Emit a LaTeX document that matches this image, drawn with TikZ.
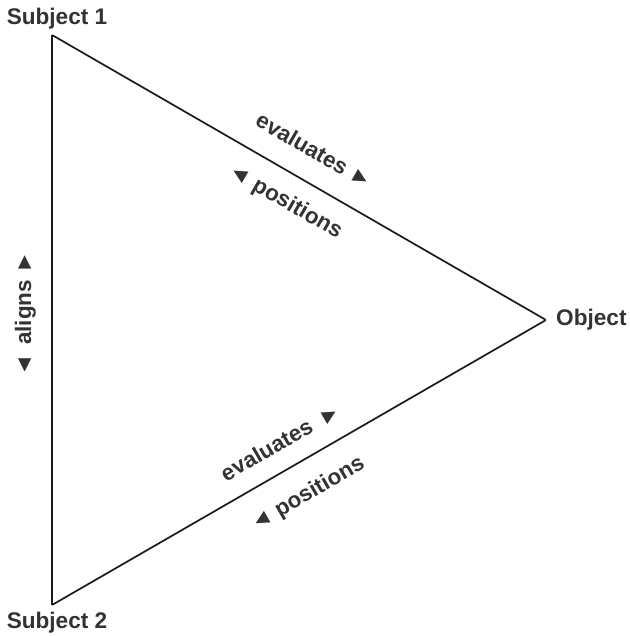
\documentclass[tikz,border=0pt]{standalone}
\usepackage{fontspec}
\setmainfont{Liberation Sans}
\usepackage{xcolor}
\definecolor{textgray}{HTML}{333333}
\definecolor{linegray}{HTML}{1A1A1A}

\begin{document}
\begin{tikzpicture}[x=1pt,y=1pt,
    corner/.style={inner sep=0pt,minimum size=0pt},
    vlabel/.style={font=\fontsize{22.6}{26}\selectfont\bfseries,text=textgray},
    elabel/.style={font=\fontsize{22.4}{26}\selectfont\bfseries,text=textgray,sloped},
    edge/.style={line width=1.7pt,draw=linegray}]

    \useasboundingbox (0,0) rectangle (629,636);

    \node[corner, label={[vlabel,label distance=2pt,xshift=5pt]above:Subject 1}]   (s1)  at (52,601) {};
    \node[corner, label={[vlabel,label distance=3.7pt,xshift=5pt]below:Subject 2}] (s2)  at (52,31) {};
    \node[corner, label={[vlabel,label distance=6.5pt]right:Object}]               (obj) at (546,316) {};

    \draw[edge] (s1) -- node[elabel,pos=0.5,above=18.7pt] (ev1) {evaluates ►}
                        node[elabel,pos=0.5,below=13.6pt] (po1) {◄ positions} (obj);
    \draw[edge] (s2) -- node[elabel,pos=0.49,above=15pt] (ev2) {evaluates\, ►}
                        node[elabel,pos=0.485,below=17.6pt] (po2) {◄ positions} (obj);
    \draw[edge] (s2) -- node[elabel,pos=0.51,above=12pt] (al) {◄\, aligns ►} (s1);

\end{tikzpicture}
\end{document}
